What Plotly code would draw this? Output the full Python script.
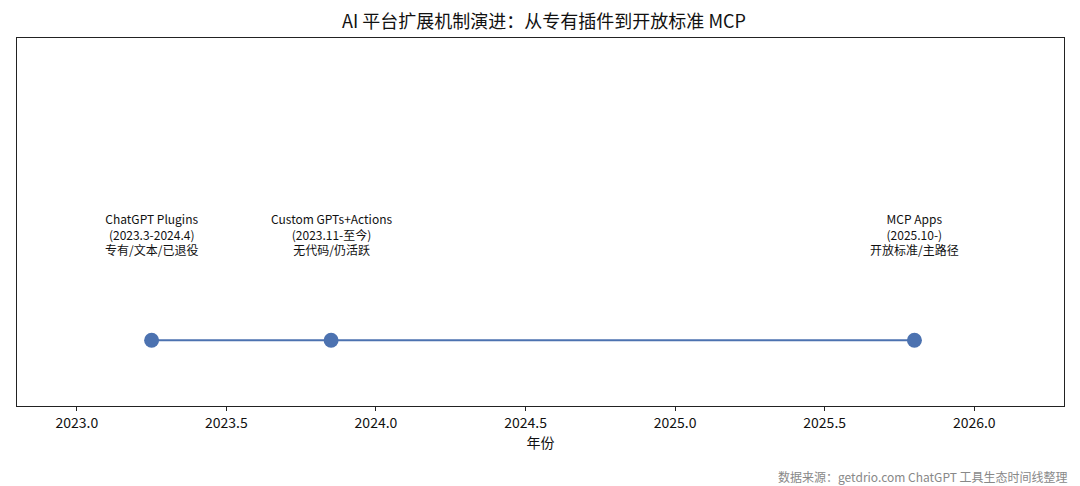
import plotly.graph_objects as go

# Data
names = ["ChatGPT Plugins", "Custom GPTs+Actions", "MCP Apps"]
periods = ["(2023.3-2024.4)", "(2023.11-至今)", "(2025.10-)"]
notes = ["专有/文本/已退役", "无代码/仍活跃", "开放标准/主路径"]
years = [2023.25, 2023.85, 2025.8]
levels = [0, 0, 0]
tick_vals = [2023.0, 2023.5, 2024.0, 2024.5, 2025.0, 2025.5, 2026.0]
tick_text = ["2023.0", "2023.5", "2024.0", "2024.5", "2025.0", "2025.5", "2026.0"]

FONT = "Noto Sans CJK SC"
BLUE = "#4c72b0"

# page has an 8px body margin; size figure to fit the visible area
W, H = 1072, 478
ml, mr, mt, mb = 9, 16, 30, 80
pw, ph = W - ml - mr, H - mt - mb

fig = go.Figure()
fig.add_trace(go.Scatter(
    x=years, y=levels, mode="lines+markers",
    line=dict(color=BLUE, width=2),
    marker=dict(color=BLUE, size=15),
    hoverinfo="skip", showlegend=False,
))

for xv, n, p, t in zip(years, names, periods, notes):
    fig.add_annotation(
        x=xv, y=0.81, xref="x", yref="y",
        text=f"{n}<br>{p}<br>{t}", showarrow=False,
        font=dict(family=FONT, size=12, color="#111111"),
        align="center", xanchor="center", yanchor="middle",
    )

fig.add_annotation(
    x=(1062 - ml) / pw, y=(H - mb - 469) / ph, xref="paper", yref="paper",
    text="数据来源：getdrio.com ChatGPT 工具生态时间线整理",
    showarrow=False, font=dict(family=FONT, size=12, color="#888888"),
    xanchor="right", yanchor="middle",
)

fig.update_layout(
    width=W, height=H,
    margin=dict(l=ml, r=mr, t=mt, b=mb),
    paper_bgcolor="white", plot_bgcolor="white",
    title=dict(text="AI 平台扩展机制演进：从专有插件到开放标准 MCP",
               x=0.5, xanchor="center", y=1 - 14 / H, yanchor="middle",
               font=dict(family=FONT, size=18, color="#111111")),
    font=dict(family=FONT, color="#111111"),
    xaxis=dict(
        range=[2022.8, 2026.3], tickvals=tick_vals, ticktext=tick_text,
        ticks="outside", ticklen=4, tickcolor="#222222", tickwidth=1,
        showline=True, linecolor="#222222", linewidth=1, mirror=True,
        showgrid=False, zeroline=False,
        tickfont=dict(family=FONT, size=14, color="#111111"),
        title=dict(text="年份", font=dict(family=FONT, size=14, color="#111111"), standoff=6),
    ),
    yaxis=dict(
        range=[-0.5, 2.3], showticklabels=False, ticks="",
        showline=True, linecolor="#222222", linewidth=1, mirror=True,
        showgrid=False, zeroline=False,
    ),
)

fig.write_html("out.html")
